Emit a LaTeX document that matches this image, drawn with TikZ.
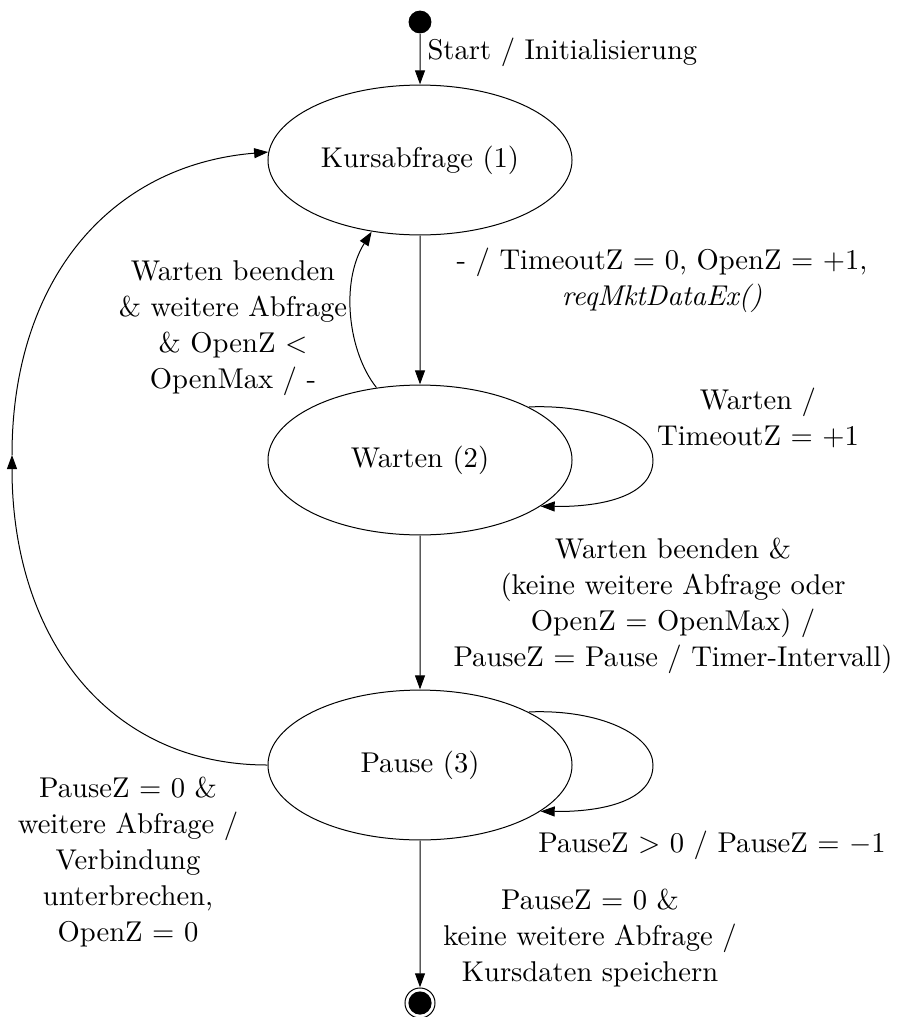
\documentclass[tikz,border=0pt]{standalone}
\usetikzlibrary{shapes.geometric,arrows.meta}
\begin{document}
\begin{tikzpicture}[x=0.5pt,y=-0.5pt,
  every node/.style={scale=1.43,font=\fontsize{10}{12.6}\selectfont},
  state/.style={draw,ellipse,line width=0.5pt,minimum width=106.3pt,minimum height=52.4pt,inner sep=0pt},
  lbl/.style={align=center,inner sep=0pt},
  edgeline/.style={line width=0.5pt,-{Triangle[length=7pt,width=5pt]}}]
\useasboundingbox (0,0) rectangle (896,1017);
\node[circle,fill=black,minimum size=8pt,inner sep=0pt] (start) at (420,22) {};
\node[state] (k) at (420,160) {Kursabfrage (1)};
\node[state] (w) at (420,460) {Warten (2)};
\node[state] (p) at (420,765) {Pause (3)};
\node[circle,draw,line width=0.5pt,minimum size=10.5pt,inner sep=0pt] (end) at (420,1003) {};
\fill (end.center) circle (5.8pt);
\coordinate (mid) at (12,455);

\draw[edgeline] (start) -- (k);
\draw[edgeline] (k) -- (w);
\draw[edgeline] (w) -- (p);
\draw[edgeline] (p) -- (end);
\draw[edgeline] (w.121) .. controls (348,352) and (340,282) .. (k.236);
\draw[edgeline] (w.26) .. controls (600,404) and (653,430) .. (653,460) .. controls (653,495) and (605,507) .. (w.-21);
\draw[edgeline] (p.26) .. controls (600,709) and (653,735) .. (653,765) .. controls (653,800) and (605,812) .. (p.-21);
\draw[edgeline] (p.west) .. controls (110,765) and (12,640) .. (mid);
\draw[edgeline] (mid) .. controls (12,280) and (110,165) .. (k.177);

\node[lbl,anchor=west] (l0) at (427,52) {Start / Initialisierung};
\node[lbl] (l1) at (662,280) {- / TimeoutZ $=$ 0, OpenZ $=$ $+$1,\\ \textit{reqMktDataEx()}};
\node[lbl] (l2) at (233,328) {Warten beenden\\ \& weitere Abfrage\\ \& OpenZ $<$\\ OpenMax / -};
\node[lbl] (l3) at (758,418) {Warten /\\ TimeoutZ $=$ $+$1};
\node[lbl] (l4) at (673,606) {Warten beenden \&\\ (keine weitere Abfrage oder\\ OpenZ $=$ OpenMax) /\\ PauseZ $=$ Pause / Timer-Intervall)};
\node[lbl] (l5) at (712,845) {PauseZ $>$ 0 / PauseZ $=$ $-1$};
\node[lbl] (l6) at (128,862) {PauseZ $=$ 0 \&\\ weitere Abfrage /\\ Verbindung\\ unterbrechen,\\ OpenZ $=$ 0};
\node[lbl] (l7) at (590,938) {PauseZ $=$ 0 \&\\ keine weitere Abfrage /\\ Kursdaten speichern};
\end{tikzpicture}
\end{document}
